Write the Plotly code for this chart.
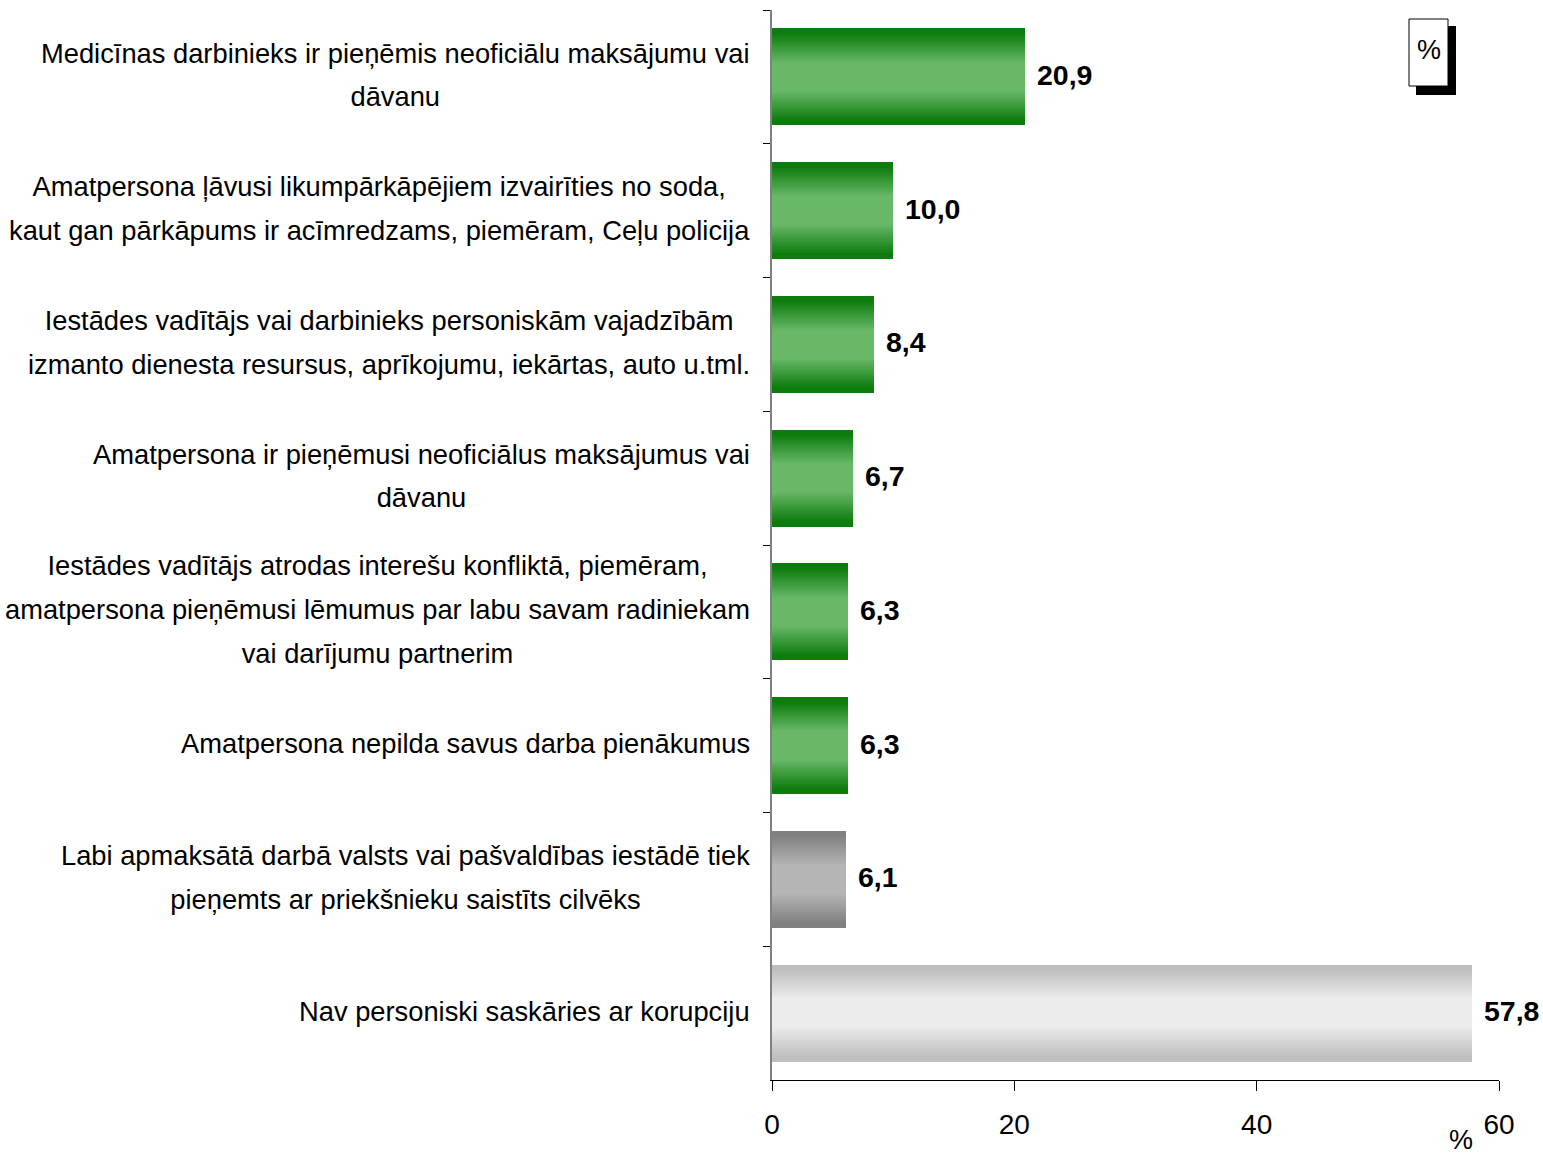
import plotly.graph_objects as go

categories = [
    "Medicīnas darbinieks ir pieņēmis neoficiālu maksājumu vai|dāvanu",
    "Amatpersona ļāvusi likumpārkāpējiem izvairīties no soda,|kaut gan pārkāpums ir acīmredzams, piemēram, Ceļu policija",
    "Iestādes vadītājs vai darbinieks personiskām vajadzībām|izmanto dienesta resursus, aprīkojumu, iekārtas, auto u.tml.",
    "Amatpersona ir pieņēmusi neoficiālus maksājumus vai|dāvanu",
    "Iestādes vadītājs atrodas interešu konfliktā, piemēram,|amatpersona pieņēmusi lēmumus par labu savam radiniekam|vai darījumu partnerim",
    "Amatpersona nepilda savus darba pienākumus",
    "Labi apmaksātā darbā valsts vai pašvaldības iestādē tiek|pieņemts ar priekšnieku saistīts cilvēks",
    "Nav personiski saskāries ar korupciju",
]
values = [20.9, 10.0, 8.4, 6.7, 6.3, 6.3, 6.1, 57.8]
value_labels = ["20,9", "10,0", "8,4", "6,7", "6,3", "6,3", "6,1", "57,8"]
groups = ["green", "green", "green", "green", "green", "green", "gray", "light"]
x_ticks = [0, 20, 40, 60]

# gradient colours (edge, centre)
palette = {
    "green": ((12, 124, 12), (104, 184, 104)),
    "gray": ((128, 128, 128), (181, 181, 181)),
    "light": ((190, 190, 190), (236, 236, 236)),
}

FONT = "Liberation Sans, Arial, sans-serif"
W, H = 1543, 1156
ML, MR, MT, MB = 772, 44, 10, 76
PW, PH = W - ML - MR, H - MT - MB

def px_x(p):
    return (p - ML) / PW

def px_y(p):
    return (H - MB - p) / PH

keys = [c.replace("|", " ") for c in categories]
fig = go.Figure()

BAR_W = 0.725
N = 32
for k in range(N):
    frac = 1 - k / N
    d = frac
    if d <= 0.3:
        t = 1.0
    elif d >= 0.92:
        t = 0.0
    else:
        t = (0.92 - d) / 0.62
    cols = []
    for g in groups:
        e, c = palette[g]
        rgb = tuple(round(e[i] + (c[i] - e[i]) * t) for i in range(3))
        cols.append("rgb(%d,%d,%d)" % rgb)
    fig.add_trace(go.Bar(
        x=values, y=keys, orientation="h", width=BAR_W * frac,
        marker=dict(color=cols, line=dict(width=0)),
        hoverinfo="skip", showlegend=False,
    ))

annotations = []
for key, v, lab in zip(keys, values, value_labels):
    annotations.append(dict(
        x=v, y=key, xref="x", yref="y", text="<b>%s</b>" % lab, showarrow=False,
        xanchor="left", yanchor="middle", xshift=10, yshift=2,
        font=dict(family=FONT, size=28.5, color="black"),
    ))

FS = 27.3
target = 44.0
plotly_ls = 1.3 * FS
for key, cat in zip(keys, categories):
    lines = cat.split("|")
    n = len(lines)
    for i in range(n):
        parts = []
        for j, ln in enumerate(lines):
            if j == i:
                parts.append(ln)
            else:
                parts.append('<span style="color:rgba(0,0,0,0)">%s</span>' % ln)
        off = i - (n - 1) / 2
        annotations.append(dict(
            x=0, y=key, xref="paper", yref="y", text="<br>".join(parts), showarrow=False,
            xanchor="right", yanchor="middle", align="center", xshift=-20,
            yshift=-off * (target - plotly_ls) + 2,
            font=dict(family=FONT, size=FS, color="black"),
        ))

annotations.append(dict(
    x=px_x(1461), y=px_y(1140), xref="paper", yref="paper", text="%", showarrow=False,
    xanchor="center", yanchor="middle", font=dict(family=FONT, size=27, color="black"),
))
annotations.append(dict(
    x=px_x(1429), y=px_y(50), xref="paper", yref="paper", text="%", showarrow=False,
    xanchor="center", yanchor="middle", font=dict(family=FONT, size=27, color="black"),
))

shapes = [
    dict(type="rect", xref="paper", yref="paper",
         x0=px_x(1416), x1=px_x(1456), y0=px_y(95), y1=px_y(26),
         fillcolor="black", line=dict(width=0)),
    dict(type="rect", xref="paper", yref="paper",
         x0=px_x(1409), x1=px_x(1448), y0=px_y(86), y1=px_y(19),
         fillcolor="white", line=dict(color="black", width=1)),
]

fig.update_layout(
    width=W, height=H,
    margin=dict(l=ML, r=MR, t=MT, b=MB, pad=0),
    paper_bgcolor="white", plot_bgcolor="white",
    barmode="overlay", bargap=0,
    annotations=annotations, shapes=shapes,
    showlegend=False,
    font=dict(family=FONT, color="black"),
)
fig.update_xaxes(
    range=[0, 60], tickvals=x_ticks, ticktext=[str(t) for t in x_ticks],
    showgrid=False, zeroline=False,
    showline=True, linecolor="black", linewidth=1,
    ticks="outside", ticklen=10, tickcolor="black", tickwidth=1,
    tickfont=dict(family=FONT, size=28, color="black"),
    ticklabelstandoff=9,
)
fig.update_yaxes(
    type="category", categoryorder="array", categoryarray=keys,
    range=[len(keys) - 0.5, -0.5],
    showticklabels=False, showgrid=False, zeroline=False,
    showline=True, linecolor="#808080", linewidth=1.5,
    ticks="outside", ticklen=7, tickcolor="black", tickwidth=1,
    tickson="boundaries",
)

fig.write_html(
    "out.html",
    config={"displayModeBar": False},
    post_script="document.body.style.margin='0';document.body.style.overflow='hidden';",
)
